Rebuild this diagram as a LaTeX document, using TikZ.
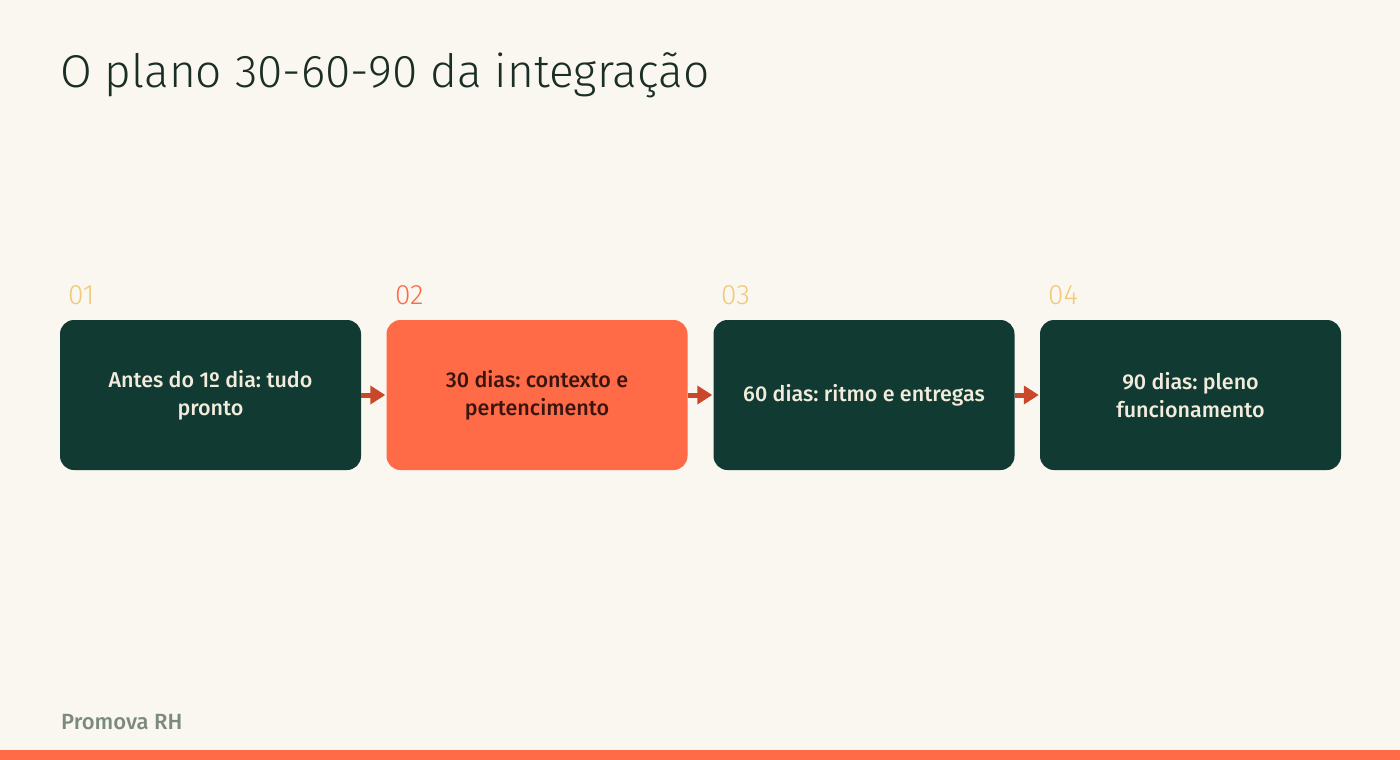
\documentclass[tikz,border=0pt]{standalone}
\usepackage{fontspec}
\setmainfont{Fira Sans}
\newfontfamily\titlefont{Fira Sans Light}
\newfontfamily\medfont{Fira Sans Medium}
\frenchspacing
\usetikzlibrary{arrows.meta}
\definecolor{bg}{HTML}{FAF7F0}
\definecolor{dk}{HTML}{103A32}
\definecolor{orng}{HTML}{FF6B47}
\definecolor{cream}{HTML}{F3EBDC}
\definecolor{ylw}{HTML}{F2C879}
\definecolor{arr}{HTML}{C9482C}
\definecolor{ttl}{HTML}{1B2E25}
\definecolor{foot}{HTML}{7C8A7C}
\definecolor{brn}{HTML}{3A1510}
\tikzset{
  stepbox/.style={rounded corners=14pt, minimum width=301pt, minimum height=150pt, align=center, inner sep=0pt, font=\medfont\fontsize{21.5}{28}\selectfont},
  darkbox/.style={stepbox, fill=dk, text=cream},
  hotbox/.style={stepbox, fill=orng, text=brn},
  numlbl/.style={anchor=west, font=\titlefont\fontsize{28}{30}\selectfont, inner sep=0pt},
  conn/.style={arr, line width=5pt, -{Triangle[length=15pt,width=18pt]}, shorten >=1pt}
}
\begin{document}
\begin{tikzpicture}[x=1pt,y=-1pt]
\fill[bg] (0,0) rectangle (1400,760);
\useasboundingbox (0,0) rectangle (1400,760);
\fill[orng] (0,750) rectangle (1400,760);
\node[anchor=west, inner sep=0pt, text=ttl, font=\titlefont\fontsize{46}{52}\selectfont] (title) at (60,75) {O plano 30-60-90 da integração};
\node[darkbox] (b1) at (210.5,395) {Antes do 1º dia: tudo\\pronto};
\node[hotbox] (b2) at (537,395) {30 dias: contexto e\\pertencimento};
\node[darkbox] (b3) at (864,395) {60 dias: ritmo e entregas};
\node[darkbox] (b4) at (1190.5,395) {90 dias: pleno\\funcionamento};
\node[numlbl, text=ylw] (n1) at (68,295) {01};
\node[numlbl, text=orng] (n2) at (395,295) {02};
\node[numlbl, text=ylw] (n3) at (721,295) {03};
\node[numlbl, text=ylw] (n4) at (1048,295) {04};
\draw[conn] (b1.east) -- (b2.west);
\draw[conn] (b2.east) -- (b3.west);
\draw[conn] (b3.east) -- (b4.west);
\node[anchor=west, inner sep=0pt, text=foot, font=\medfont\fontsize{22}{24}\selectfont] (ft) at (61,722) {Promova RH};
\end{tikzpicture}
\end{document}
